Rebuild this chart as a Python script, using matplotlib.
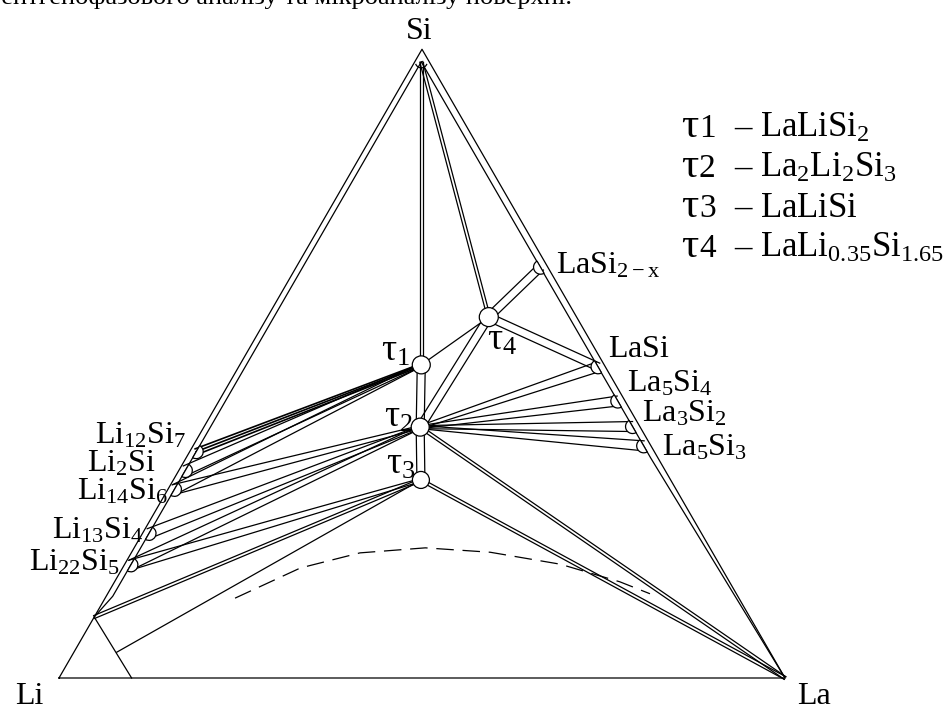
import matplotlib.pyplot as plt
import numpy as np
from matplotlib.patches import Arc, Circle, Wedge

plt.rcParams["font.family"] = ["Liberation Serif", "DejaVu Serif"]
plt.rcParams["mathtext.fontset"] = "custom"
plt.rcParams["mathtext.rm"] = "Liberation Serif"
plt.rcParams["mathtext.it"] = "Liberation Serif:italic"

# compositions as mole fractions (x_La, x_Si), x_Li = 1 - x_La - x_Si
la_si_names = ["LaSi2-x", "LaSi", "La5Si4", "La3Si2", "La5Si3"]
la_si_xla = [0.34, 0.50, 0.555, 0.596, 0.627]
la_si_labels = [r"$\mathrm{LaSi_{2-x}}$", r"$\mathrm{LaSi}$", r"$\mathrm{La_5Si_4}$",
                r"$\mathrm{La_3Si_2}$", r"$\mathrm{La_5Si_3}$"]

li_si_names = ["Li12Si7", "Li2Si", "Li14Si6", "Li13Si4", "Li22Si5"]
li_si_xsi = [0.36, 0.33, 0.30, 0.23, 0.18]
li_si_labels = [r"$\mathrm{Li_{12}Si_7}$", r"$\mathrm{Li_2Si}$", r"$\mathrm{Li_{14}Si_6}$",
                r"$\mathrm{Li_{13}Si_4}$", r"$\mathrm{Li_{22}Si_5}$"]

tau_names = ["t1", "t2", "t3", "t4"]
tau_xla = [0.250, 0.298, 0.341, 0.305]
tau_xsi = [0.498, 0.399, 0.315, 0.574]
tau_labels = [r"$\mathrm{\tau_1}$", r"$\mathrm{\tau_2}$", r"$\mathrm{\tau_3}$", r"$\mathrm{\tau_4}$"]
tau_formulas = [r"$\mathrm{LaLiSi_2}$", r"$\mathrm{La_2Li_2Si_3}$", r"$\mathrm{LaLiSi}$",
                r"$\mathrm{LaLi_{0.35}Si_{1.65}}$"]

# Li-rich corner region: A (on Li-Si side), B (boundary), C (on Li-La side)
li_ss_names = ["A", "B", "C"]
li_ss_xla = [0.0, 0.059, 0.10]
li_ss_xsi = [0.097, 0.041, 0.0]

# inner boundary lines along the binary sides
si_in = (0.009, 0.980)
li_inner_xla = [0.009, 0.009, 0.0]
li_inner_xsi = [0.980, 0.13, 0.097]
la_inner_xla = [0.009, 0.64, 1.0]
la_inner_xsi = [0.980, 0.35, 0.0]

# dashed boundary
dash_xla = [0.179, 0.245, 0.315, 0.401, 0.494, 0.600, 0.696, 0.747]
dash_xsi = [0.127, 0.175, 0.199, 0.207, 0.200, 0.181, 0.153, 0.134]

# tie lines
narrow_ties = [("Si", "t1"), ("Si", "t4"), ("t2", "La"), ("t3", "La"), ("t3", "A")]
wide_ties = [("t4", "LaSi2-x"), ("t4", "LaSi"), ("t2", "t4"), ("t1", "t2"), ("t2", "t3")]
fan_ties = [("t2", "LaSi"), ("t2", "La5Si4"), ("t2", "La3Si2"), ("t2", "La5Si3"),
            ("t1", "Li2Si"), ("t1", "Li14Si6"), ("t2", "Li14Si6"), ("t2", "Li13Si4"),
            ("t2", "Li22Si5"), ("t3", "Li22Si5")]
heavy_ties = [("t1", "Li12Si7")]
single_ties = [("t1", "t4"), ("B", "t3"), ("A", "C")]

S3 = np.sqrt(3) / 2
PX = 1 / 726  # data units per pixel


def tern(xla, xsi):
    return np.array([xla + 0.5 * xsi, xsi * S3])


def pxy(x, y):
    # pixel position (top-left origin) -> data coords
    return (x - 59) / 726, (678 - y) / 726


pos = {"Si": tern(*si_in), "La": tern(1, 0), "Li": tern(0, 0)}
for n, xla in zip(la_si_names, la_si_xla):
    pos[n] = tern(xla * 0.99, (1 - xla) * 0.99)
for n, xsi in zip(li_si_names, li_si_xsi):
    pos[n] = tern(0.009, xsi)
for n, xla, xsi in zip(tau_names, tau_xla, tau_xsi):
    pos[n] = tern(xla, xsi)
for n, xla, xsi in zip(li_ss_names, li_ss_xla, li_ss_xsi):
    pos[n] = tern(xla, xsi)

fig = plt.figure(figsize=(9.49, 7.16), dpi=100)
ax = fig.add_axes([0, 0, 1, 1])
ax.set_xlim(-59 / 726, 890 / 726)
ax.set_ylim(-38 / 726, 678 / 726)
ax.axis("off")

LW = 0.9


def tie(a, b, sa, sb, n=2, lw=LW):
    pa, pb = pos[a], pos[b]
    d = pb - pa
    nrm = np.array([-d[1], d[0]]) / np.hypot(*d)
    for s in np.linspace(-1, 1, n) if n > 1 else [0]:
        p1 = pa + nrm * s * sa * PX
        p2 = pb + nrm * s * sb * PX
        ax.plot([p1[0], p2[0]], [p1[1], p2[1]], color="k", lw=lw, zorder=1)


# outer triangle and inner lines
tri = np.array([tern(0, 0), tern(1, 0), tern(0, 1), tern(0, 0)])
ax.plot(tri[:, 0], tri[:, 1], color="k", lw=LW)
li_in = np.array([tern(a, b) for a, b in zip(li_inner_xla, li_inner_xsi)])
la_in = np.array([tern(a, b) for a, b in zip(la_inner_xla, la_inner_xsi)])
ax.plot(li_in[:, 0], li_in[:, 1], color="k", lw=LW)
ax.plot(la_in[:, 0], la_in[:, 1], color="k", lw=LW)
ax.add_patch(Arc(pos["Si"], 12 * PX, 12 * PX, theta1=200, theta2=340, color="k", lw=LW))

for a, b in narrow_ties:
    tie(a, b, 1.5, 1.5)
for a, b in wide_ties:
    tie(a, b, 4, 4)
for a, b in fan_ties:
    tie(a, b, 1.5, 5)
for a, b in heavy_ties:
    tie(a, b, 1.2, 3, n=3, lw=1.2)
for a, b in single_ties:
    tie(a, b, 0, 0, n=1)

dash = np.array([tern(a, b) for a, b in zip(dash_xla, dash_xsi)])
ax.plot(dash[:, 0], dash[:, 1], color="k", lw=LW, dashes=(14, 7))

# phase markers
for n, r in zip(tau_names, [9, 9, 8.5, 9.5]):
    ax.add_patch(Circle(pos[n], r * PX, fc="white", ec="k", lw=LW, zorder=3))
for n in la_si_names:
    ax.add_patch(Wedge(pos[n], 7 * PX, 120, 300, fc="white", ec="k", lw=LW, zorder=3))
for n in li_si_names:
    ax.add_patch(Wedge(pos[n], 7 * PX, -120, 60, fc="white", ec="k", lw=LW, zorder=3))

# labels
FS = 23
ax.text(*pxy(-12, 4), "рентгенофазового аналізу та мікроаналізу поверхні.", fontsize=19,
        va="baseline", ha="left")
ax.text(*pxy(419, 32), "Si", fontsize=FS, ha="center", va="center")
ax.text(*pxy(15, 697), "Li", fontsize=FS, ha="left", va="center")
ax.text(*pxy(797, 697), "La", fontsize=FS, ha="left", va="center")

for lab, (x, y) in zip(la_si_labels, [(556, 266), (608, 350), (627, 384), (642, 414), (662, 448)]):
    ax.text(*pxy(x, y), lab, fontsize=FS, ha="left", va="center")
for lab, (x, y) in zip(li_si_labels, [(186, 436), (156, 464), (168, 492), (144, 531), (120, 563)]):
    ax.text(*pxy(x, y), lab, fontsize=FS, ha="right", va="center")
for lab, (x, y) in zip(tau_labels, [(381, 351), (384, 417), (386, 464), (487, 340)]):
    ax.text(*pxy(x, y), lab, fontsize=27, ha="left", va="center")

for i, form in enumerate(tau_formulas):
    y = 137 + 40 * i
    ax.text(*pxy(681, y), "τ", fontsize=31, ha="left", va="baseline")
    ax.text(*pxy(699, y), str(i + 1), fontsize=24, ha="left", va="baseline")
    ax.text(*pxy(734, y), "–", fontsize=25, ha="left", va="baseline")
    ax.text(*pxy(760, y), form, fontsize=25, ha="left", va="baseline")

fig.savefig("out.png", dpi=100)
